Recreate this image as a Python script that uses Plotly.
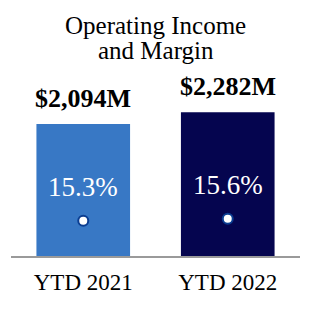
import plotly.graph_objects as go

categories = ["YTD 2021", "YTD 2022"]
income = [2094, 2282]
income_labels = ["$2,094M", "$2,282M"]
margin = [15.3, 15.6]
margin_labels = ["15.3%", "15.6%"]
bar_colors = ["#3878C5", "#05054F"]

FONT = "'Liberation Serif', 'Times New Roman', Times, serif"

fig = go.Figure()
fig.add_trace(go.Bar(x=categories, y=income, marker=dict(color=bar_colors, line=dict(width=0)),
                     width=0.648, hoverinfo="skip"))
fig.add_trace(go.Scatter(x=categories, y=margin, yaxis="y2", mode="markers",
                         marker=dict(size=10, color="white", line=dict(color="#0B3D91", width=2)),
                         hoverinfo="skip"))

ann = []
for c, v, t in zip(categories, income, income_labels):
    ann.append(dict(x=c, y=v, xref="x", yref="y", text="<b>" + t + "</b>", showarrow=False,
                    yanchor="bottom", yshift=9, font=dict(family=FONT, size=26, color="black")))
for c, v, t in zip(categories, margin, margin_labels):
    ann.append(dict(x=c, y=v, xref="x", yref="y2", text=t, showarrow=False,
                    yanchor="middle", yshift=34, font=dict(family=FONT, size=27, color="white")))
ann.append(dict(x=0.5, y=1.217, xref="paper", yref="paper", text="Operating Income", showarrow=False,
                yanchor="middle", font=dict(family=FONT, size=25, color="black")))
ann.append(dict(x=0.5, y=1.085, xref="paper", yref="paper", text="and Margin", showarrow=False,
                yanchor="middle", font=dict(family=FONT, size=25, color="black")))

fig.update_layout(
    width=310, height=310,
    margin=dict(l=10.5, r=9.5, t=67, b=54, autoexpand=False),
    paper_bgcolor="white", plot_bgcolor="white",
    showlegend=False,
    bargap=0.352,
    xaxis=dict(showline=True, linecolor="#9a9a9a", linewidth=2, showgrid=False, ticks="",
               tickfont=dict(family=FONT, size=23, color="black"), ticklabelstandoff=4),
    yaxis=dict(range=[0, 3000], visible=False, showgrid=False, zeroline=False),
    yaxis2=dict(range=[10, 38.4], overlaying="y", visible=False, showgrid=False, zeroline=False),
    annotations=ann,
)

fig.write_html("out.html")
